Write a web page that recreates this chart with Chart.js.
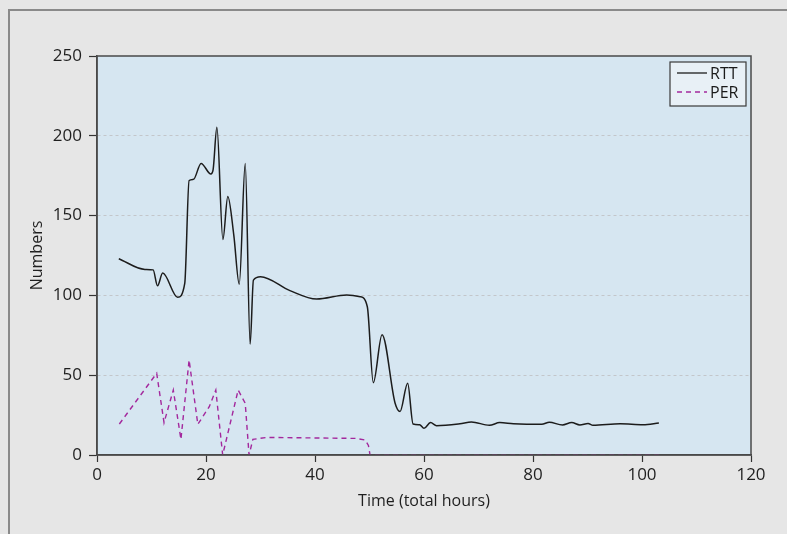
<!DOCTYPE html>
<html>
<head>
<meta charset="utf-8">
<script src="https://cdn.jsdelivr.net/npm/chart.js@4"></script>
<style>
  html, body { margin:0; padding:0; background:#e6e6e6; overflow:hidden; }
  #wrap { width:787px; height:534px; position:relative; }
  canvas { display:block; }
</style>
</head>
<body>
<div id="wrap"><canvas id="chart"></canvas></div>
<script>
const rttHours = [4, 8.8, 10.3, 11.1, 12.05, 14.8, 16.1, 16.9, 17.7, 19.1, 20.9, 21.3, 22.0, 23.1, 24.0, 25.1, 26.1, 27.2, 28.1, 28.7, 30.0, 35.4, 40.3, 45.8, 48.3, 49.6, 50.7, 52.3, 54.7, 55.6, 57.0, 58.0, 59.2, 60.0, 61.2, 62.3, 66.6, 68.7, 72.0, 73.9, 76.4, 81.6, 83.0, 85.4, 87.1, 88.6, 90.1, 91.0, 96.0, 100.2, 103.1];
const rttValues = [123, 116.3, 116, 106, 114, 98.8, 107.5, 172, 172.7, 182.7, 176, 178.6, 205.3, 135, 162, 137.8, 107, 182.7, 69.5, 109.6, 111.7, 103, 97.7, 100.2, 99.2, 92.9, 45.3, 75.4, 32.4, 27.2, 45, 19.4, 19, 16.7, 20.3, 18.4, 19.6, 20.7, 18.6, 20.3, 19.6, 19.2, 20.5, 18.8, 20.3, 18.8, 19.8, 18.6, 19.6, 19, 20];
const perHours = [4.1, 10.95, 12.3, 14.0, 15.4, 16.9, 18.5, 20.6, 21.8, 23.06, 25.9, 27.2, 27.9, 28.6, 31.1, 47.6, 49.2, 49.8, 50.1, 60, 80, 103.1];
const perValues = [19.4, 51.2, 20.3, 40.7, 9.8, 59.5, 19.2, 30.3, 40.7, 0, 40.7, 32.4, 0, 9.8, 11, 10.4, 9.4, 6, 0, 0, 0, 0];
const xTicks = [0, 20, 40, 60, 80, 100, 120];
const yTicks = [0, 50, 100, 150, 200, 250];
const seriesNames = ['RTT', 'PER'];

const FONT = 'Open Sans';
const rttColor = '#1c1c1c';
const perColor = '#a3289d';

function toPoints(xs, ys){ return xs.map((x, i) => ({ x, y: ys[i] })); }

const framePlugin = {
  id: 'frame',
  beforeDraw(chart){
    const c = chart.ctx, a = chart.chartArea;
    c.save();
    c.fillStyle = '#e6e6e6';
    c.fillRect(0, 0, chart.width, chart.height);
    c.strokeStyle = '#8a8a8a';
    c.lineWidth = 2;
    c.beginPath();
    c.moveTo(9, chart.height + 5);
    c.lineTo(9, 10);
    c.lineTo(chart.width + 5, 10);
    c.stroke();
    c.fillStyle = '#d6e6f1';
    c.fillRect(a.left, a.top, a.right - a.left, a.bottom - a.top);
    c.restore();
  },
  afterDraw(chart){
    const c = chart.ctx, a = chart.chartArea;
    c.save();
    c.strokeStyle = '#4a4a4a';
    c.lineWidth = 1.5;
    c.strokeRect(a.left, a.top, a.right - a.left, a.bottom - a.top);
    // legend box in the upper right corner
    const bx = a.right - 81, by = a.top + 6, bw = 76, bh = 44;
    c.fillStyle = '#e8f0f6';
    c.fillRect(bx, by, bw, bh);
    c.strokeStyle = '#3a3a3a';
    c.lineWidth = 1.2;
    c.strokeRect(bx, by, bw, bh);
    c.font = '16px "' + FONT + '"';
    c.textBaseline = 'middle';
    c.fillStyle = '#1a1a1a';
    chart.data.datasets.forEach((ds, i) => {
      const ly = by + 11 + i * 19;
      c.strokeStyle = ds.borderColor;
      c.lineWidth = 1.3;
      c.setLineDash(ds.borderDash || []);
      c.beginPath();
      c.moveTo(bx + 7, ly);
      c.lineTo(bx + 37, ly);
      c.stroke();
      c.setLineDash([]);
      c.fillText(ds.label, bx + 40, ly + 1);
    });
    c.restore();
  }
};

new Chart(document.getElementById('chart'), {
  type: 'scatter',
  data: {
    datasets: [
      { label: seriesNames[0], data: toPoints(rttHours, rttValues), showLine: true,
        borderColor: rttColor, borderWidth: 1.5, pointRadius: 0,
        cubicInterpolationMode: 'monotone' },
      { label: seriesNames[1], data: toPoints(perHours, perValues), showLine: true,
        borderColor: perColor, borderWidth: 1.4, borderDash: [5, 4], pointRadius: 0,
        tension: 0 }
    ]
  },
  options: {
    responsive: true,
    maintainAspectRatio: false,
    animation: false,
    layout: { padding: { left: 0, top: 56, right: 36, bottom: 0 } },
    plugins: { legend: { display: false }, tooltip: { enabled: false } },
    scales: {
      x: {
        type: 'linear', min: 0, max: 120,
        afterFit(s){ s.height = 79; },
        afterBuildTicks(s){ s.ticks = xTicks.map(v => ({ value: v })); },
        grid: { drawOnChartArea: false, drawTicks: true, tickLength: 7, tickColor: '#333', tickWidth: 1.2 },
        border: { color: '#4a4a4a', width: 1.5 },
        ticks: { color: '#1f1f1f', font: { family: FONT, size: 17 }, padding: 3, maxRotation: 0 },
        title: { display: true, text: 'Time (total hours)', color: '#1f1f1f',
                 font: { family: FONT, size: 16 }, padding: { top: 0, bottom: 23 } }
      },
      y: {
        min: 0, max: 250,
        afterFit(s){ s.width = 97; },
        afterBuildTicks(s){ s.ticks = yTicks.map(v => ({ value: v })); },
        grid: {
          drawTicks: true, tickLength: 8, tickColor: '#333', tickWidth: 1.2,
          color: ctx => (ctx.tick && (ctx.tick.value === 0 || ctx.tick.value === 250)) ? 'rgba(0,0,0,0)' : '#c3c6ca',
          lineWidth: 1
        },
        border: { color: '#4a4a4a', width: 1.5, dash: [3, 3] },
        ticks: { color: '#1f1f1f', font: { family: FONT, size: 17 }, padding: 7 },
        title: { display: true, text: 'Numbers', color: '#1f1f1f',
                 font: { family: FONT, size: 16 }, padding: { top: 28, bottom: 0 } }
      }
    }
  },
  plugins: [framePlugin]
});
</script>
</body>
</html>
